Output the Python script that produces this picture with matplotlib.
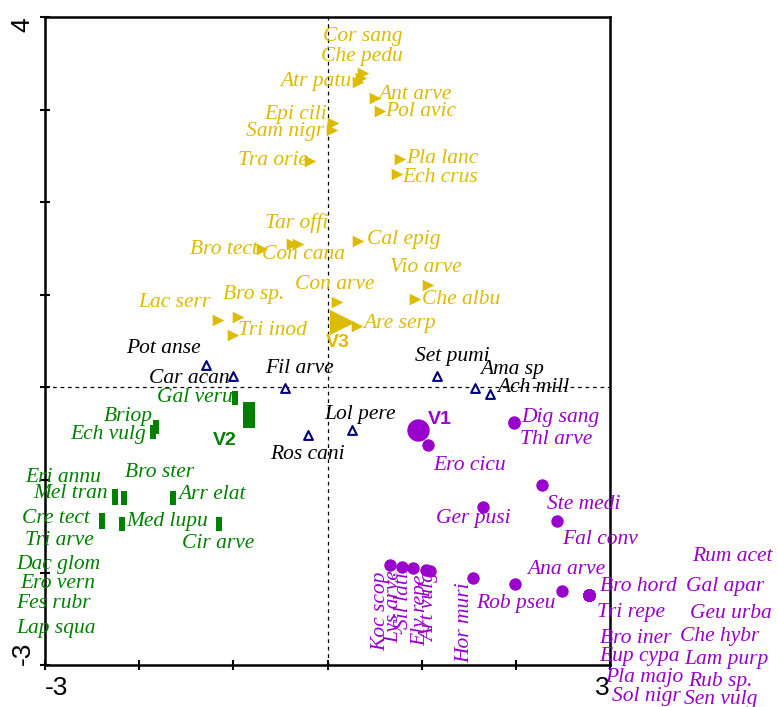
import numpy as np
import matplotlib.pyplot as plt
from matplotlib.path import Path

# ---- data (axis scores) ----
yel_names = ['Cor sang', 'Che pedu', 'Atr patu', 'Ant arve', 'Pol avic', 'Epi cili', 'Sam nigr',
             'Tra orie', 'Pla lanc', 'Ech crus', 'Tar offi', 'Con cana', 'Bro tect', 'Cal epig',
             'Vio arve', 'Che albu', 'Con arve', 'Bro sp.', 'Lac serr', 'Tri inod', 'Are serp']
yel_x = [0.38, 0.36, 0.32, 0.50, 0.56, 0.06, 0.05, -0.19, 0.77, 0.74, -0.38, -0.31, -0.70, 0.32,
         1.07, 0.93, 0.10, -0.95, -1.16, -1.00, 0.31]
yel_y = [3.40, 3.34, 3.30, 3.12, 2.98, 2.85, 2.78, 2.44, 2.47, 2.30, 1.55, 1.55, 1.50, 1.58,
         1.11, 0.96, 0.92, 0.76, 0.73, 0.57, 0.66]

nav_names = ['Pot anse', 'Car acan', 'Fil arve', 'Set pumi', 'Ama sp', 'Ach mill', 'Lol pere', 'Ros cani']
nav_x = [-1.29, -1.00, -0.45, 1.16, 1.57, 1.73, 0.26, -0.21]
nav_y = [0.24, 0.12, -0.01, 0.12, -0.01, -0.07, -0.46, -0.51]

grn_names = ['Gal veru', 'Briop', 'Ech vulg', 'Eri annu', 'Mel tran', 'Bro ster', 'Arr elat',
             'Cre tect', 'Tri arve', 'Med lupu', 'Cir arve', 'Dac glom', 'Ero vern', 'Fes rubr', 'Lap squa']
grn_x = [-0.98, -1.82, -1.85, -2.26, -2.26, -2.16, -1.64, -2.40, -2.40, -2.18, -1.15,
         -2.40, -2.40, -2.40, -2.40]
grn_y = [-0.11, -0.43, -0.48, -1.17, -1.19, -1.19, -1.19, -1.43, -1.45, -1.47, -1.47,
         -1.44, -1.44, -1.44, -1.44]

pur_names = ['Ero cicu', 'Dig sang', 'Thl arve', 'Ste medi', 'Ger pusi', 'Fal conv', 'Koc scop',
             'Lys arve', 'Sil lati', 'Ely repe', 'Art vulg', 'Hor muri', 'Rob pseu', 'Ana arve',
             'Bro hord', 'Tri repe', 'Bro iner', 'Eup cypa', 'Pla majo', 'Sol nigr', 'Rum acet',
             'Gal apar', 'Geu urba', 'Che hybr', 'Lam purp', 'Rub sp.', 'Sen vulg']
pur_x = [1.07, 1.98, 1.98, 2.28, 1.65, 2.44, 0.66, 0.79, 0.91, 1.05, 1.09, 1.55, 1.99, 2.49,
         2.78, 2.78, 2.78, 2.78, 2.78, 2.78, 2.78, 2.78, 2.78, 2.78, 2.78, 2.78, 2.78]
pur_y = [-0.62, -0.37, -0.38, -1.05, -1.29, -1.44, -1.92, -1.94, -1.95, -1.97, -1.98, -2.06,
         -2.12, -2.20, -2.24, -2.24, -2.24, -2.24, -2.24, -2.24, -2.24, -2.24, -2.24, -2.24,
         -2.24, -2.24, -2.24]

cent_names = ['V1', 'V2', 'V3']
cent_x = [0.96, -0.83, 0.15]
cent_y = [-0.46, -0.30, 0.71]

# ---- label placement (x, y, ha) ----
yel_lab = [(-0.05, 3.79, 'left'), (-0.07, 3.57, 'left'), (0.25, 3.30, 'right'), (0.54, 3.16, 'left'),
           (0.61, 2.98, 'left'), (-0.01, 2.95, 'right'), (-0.03, 2.76, 'right'), (-0.21, 2.45, 'right'),
           (0.83, 2.47, 'left'), (0.79, 2.27, 'left'), (-0.66, 1.77, 'left'), (-0.70, 1.44, 'left'),
           (-0.74, 1.49, 'right'), (0.42, 1.60, 'left'), (0.66, 1.30, 'left'), (1.00, 0.95, 'left'),
           (-0.35, 1.11, 'left'), (-1.11, 1.00, 'left'), (-1.24, 0.92, 'right'), (-0.95, 0.62, 'left'),
           (0.38, 0.69, 'left')]
nav_lab = [(-1.35, 0.42, 'right'), (-1.04, 0.10, 'right'), (-0.66, 0.20, 'left'), (0.93, 0.33, 'left'),
           (1.62, 0.19, 'left'), (1.80, 0.00, 'left'), (-0.03, -0.29, 'left'), (-0.61, -0.72, 'left')]
grn_lab = [(-1.01, -0.11, 'right'), (-1.86, -0.31, 'right'), (-1.93, -0.51, 'right'),
           (-3.21, -0.97, 'left'), (-3.13, -1.15, 'left'), (-2.15, -0.92, 'left'), (-1.59, -1.16, 'left'),
           (-2.52, -1.42, 'right'), (-3.21, -1.65, 'left'), (-2.14, -1.45, 'left'), (-1.55, -1.68, 'left'),
           (-3.31, -1.91, 'left'), (-3.26, -2.12, 'left'), (-3.31, -2.33, 'left'), (-3.31, -2.60, 'left')]
pur_lab = [(1.12, -0.84, 'left'), (2.06, -0.33, 'left'), (2.04, -0.56, 'left'), (2.33, -1.26, 'left'),
           (1.94, -1.42, 'right'), (2.49, -1.64, 'left'), None, None, None, None, None, None,
           (2.42, -2.33, 'right'), (2.12, -1.97, 'left'), (2.89, -2.15, 'left'), (2.86, -2.43, 'left'),
           (2.89, -2.71, 'left'), (2.89, -2.91, 'left'), (2.95, -3.13, 'left'), (3.02, -3.34, 'left'),
           (3.87, -1.83, 'left'), (3.81, -2.15, 'left'), (3.85, -2.44, 'left'), (3.74, -2.69, 'left'),
           (3.79, -2.94, 'left'), (3.83, -3.17, 'left'), (3.79, -3.37, 'left')]
# vertical labels below the clustered points: (x, top)
pur_vlab = {'Koc scop': (0.56, -1.99), 'Lys arve': (0.70, -1.97), 'Sil lati': (0.81, -1.99),
            'Ely repe': (0.99, -2.02), 'Art vulg': (1.09, -1.99), 'Hor muri': (1.46, -2.10)}
cent_lab = [(1.07, -0.35, 'left'), (-1.09, -0.57, 'center'), (0.11, 0.49, 'center')]

YEL = '#DDBB00'
GRN = '#008000'
PUR = '#9900CC'
NAV = '#000080'

plt.rcParams['font.family'] = ['Liberation Serif', 'DejaVu Serif']

fig = plt.figure(figsize=(7.78, 7.07), dpi=100)
ax = fig.add_axes([0.058, 0.059, 0.726, 0.917])

ax.axhline(0, color='black', lw=0.9, ls=(0, (3, 3)), zorder=1)
ax.axvline(0, color='black', lw=0.9, ls=(0, (3, 3)), zorder=1)

rect = Path([(-0.5, -1), (0.5, -1), (0.5, 1), (-0.5, 1), (-0.5, -1)])

ax.scatter(yel_x, yel_y, marker='>', s=70, color=YEL, lw=0, zorder=3)
ax.scatter(nav_x, nav_y, marker='^', s=40, facecolor='white', edgecolor=NAV, lw=1.5, zorder=3)
ax.scatter(grn_x, grn_y, marker=rect, s=100, color=GRN, lw=0, zorder=3)
ax.scatter(pur_x, pur_y, marker='o', s=80, color=PUR, lw=0, zorder=3)

ax.scatter(cent_x[0], cent_y[0], marker='o', s=260, color=PUR, lw=0, zorder=3)
ax.scatter(cent_x[1], cent_y[1], marker=rect, s=340, color=GRN, lw=0, zorder=3)
ax.scatter(cent_x[2], cent_y[2], marker='>', s=330, color=YEL, lw=0, zorder=3)

FS = 15.5
lab_kw = dict(fontsize=FS, style='italic', va='center', clip_on=False, zorder=4)
for n, p in zip(yel_names, yel_lab):
    ax.text(p[0], p[1], n, color=YEL, ha=p[2], **lab_kw)
for n, p in zip(nav_names, nav_lab):
    ax.text(p[0], p[1], n, color='black', ha=p[2], **lab_kw)
for n, p in zip(grn_names, grn_lab):
    ax.text(p[0], p[1], n, color=GRN, ha=p[2], **lab_kw)
for n, p in zip(pur_names, pur_lab):
    if p is not None:
        ax.text(p[0], p[1], n, color=PUR, ha=p[2], **lab_kw)
for n, (xx, top) in pur_vlab.items():
    ax.text(xx, top, n, color=PUR, rotation=90, ha='center', va='top', fontsize=FS,
            style='italic', zorder=4)

cent_col = [PUR, GRN, YEL]
for n, p, c in zip(cent_names, cent_lab, cent_col):
    ax.text(p[0], p[1], n, color=c, ha=p[2], va='center', fontsize=14, fontweight='bold',
            family='Liberation Sans', zorder=4)

ax.set_xlim(-3, 3)
ax.set_ylim(-3, 4)
ax.set_xticks(np.arange(-3, 4))
ax.set_yticks(np.arange(-3, 5))
ax.set_xticklabels(['-3', '', '', '', '', '', '3'], family='Liberation Sans', fontsize=19)
ax.set_yticklabels(['-3', '', '', '', '', '', '', '4'], family='Liberation Sans', fontsize=19,
                   rotation=90)
xl = ax.get_xticklabels()
xl[0].set_ha('left')
xl[-1].set_ha('right')
yl = ax.get_yticklabels()
yl[0].set_va('bottom')
yl[-1].set_va('top')
ax.tick_params(direction='inout', length=7, width=1.5, pad=4)
for s in ax.spines.values():
    s.set_linewidth(1.8)

fig.savefig('out.png', dpi=100)
